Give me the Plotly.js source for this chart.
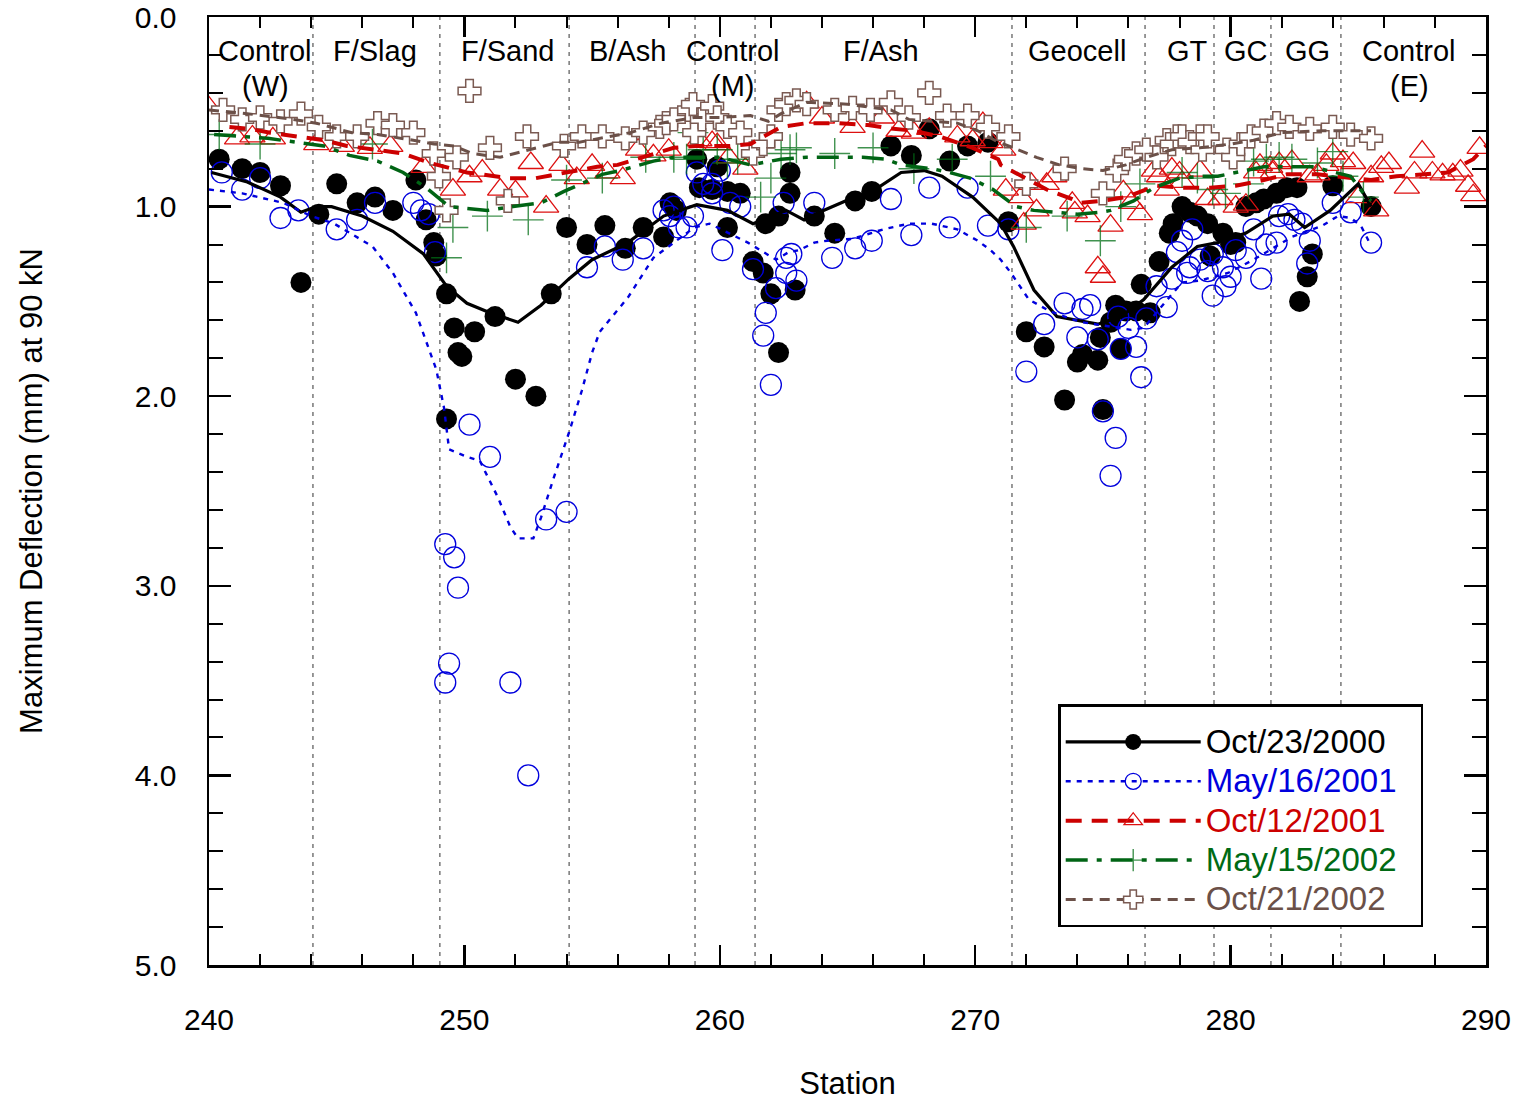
<!DOCTYPE html>
<html>
<head>
<meta charset="utf-8">
<script src="https://cdn.plot.ly/plotly-3.0.1.min.js"></script>
<style>
  html, body { margin: 0; padding: 0; background: #ffffff; }
  #chart { width: 1525px; height: 1103px; }
</style>
</head>
<body>
<div id="chart"></div>
<script>
// ---- Falling-weight deflection survey: maximum deflection (mm) at 90 kN vs. station ----

// Test-section boundaries (station) and section names
const sectionBounds = [244.07, 249.04, 254.1, 259.03, 261.38, 271.44, 276.65, 279.35, 281.58, 284.32];
const sectionNames = ['Control<br>(W)', 'F/Slag', 'F/Sand', 'B/Ash', 'Control<br>(M)', 'F/Ash',
                      'Geocell', 'GT', 'GC', 'GG', 'Control<br>(E)'];
const sectionCenters = [242.2, 246.5, 251.7, 256.4, 260.5, 266.3, 274.0, 278.3, 280.6, 283.0, 287.0];

// Oct/23/2000 measurements
const oct2000X = [240.4, 241.3, 242.0, 242.8, 243.6, 244.3, 245.0, 245.8, 246.5, 247.2, 248.1, 248.5, 248.8, 248.9,
  249.3, 249.3, 249.6, 249.75, 249.9, 250.4, 251.2, 252.0, 252.8, 253.4, 254.0, 254.8, 255.5, 256.3, 257.0, 257.8,
  258.05, 258.3, 259.1, 259.2, 259.7, 259.9, 260.3, 260.3, 260.8, 261.3, 261.7, 261.8, 262.0, 262.3, 262.3, 262.75,
  262.75, 262.95, 263.7, 264.5, 265.3, 265.95, 266.7, 267.5, 268.2, 269.0, 269.7, 270.5, 271.3, 272.0, 272.7, 273.5,
  274.0, 274.2, 274.8, 274.9, 275.0, 275.3, 275.5, 275.7, 275.9, 276.3, 276.5, 276.85, 277.2, 277.6, 277.75, 278.1,
  278.4, 278.7, 279.1, 279.2, 279.7, 280.0, 280.2, 280.6, 281.0, 281.3, 281.8, 282.2, 282.6, 282.7, 283.0, 283.2,
  284.0, 285.5];
const oct2000Y = [0.75, 0.80, 0.82, 0.89, 1.40, 1.04, 0.88, 0.98, 0.95, 1.02, 0.86, 1.07, 1.19, 1.26,
  1.46, 2.12, 1.64, 1.77, 1.79, 1.66, 1.58, 1.91, 2.00, 1.46, 1.11, 1.20, 1.10, 1.22, 1.11, 1.16,
  0.98, 1.02, 0.75, 0.90, 0.91, 0.79, 0.92, 1.11, 0.93, 1.29, 1.35, 1.09, 1.46, 1.05, 1.77, 0.82,
  0.93, 1.44, 1.05, 1.14, 0.97, 0.92, 0.68, 0.73, 0.59, 0.76, 0.68, 0.66, 1.08, 1.66, 1.74, 2.02,
  1.82, 1.78, 1.81, 1.69, 2.07, 1.61, 1.52, 1.75, 1.55, 1.55, 1.41, 1.56, 1.29, 1.14, 1.09, 1.00,
  1.03, 1.05, 1.09, 1.26, 1.14, 1.20, 1.19, 1.00, 0.98, 0.96, 0.93, 0.90, 0.90, 1.50, 1.37, 1.25,
  0.89, 1.00];
const oct2000TrendX = [240.1, 241.5, 242.8, 243.6, 244.2, 244.8, 246.0, 247.2, 248.4, 249.3, 250.1, 251.0, 252.1,
  253.0, 254.1, 255.0, 256.4, 257.8, 259.1, 260.3, 261.3, 262.6, 263.3, 263.9, 265.1, 266.2, 267.1, 268.0, 268.7,
  269.9, 271.0, 271.5, 272.3, 273.2, 274.8, 275.7, 276.6, 277.7, 278.7, 279.5, 280.6, 281.65, 282.3, 282.9, 283.9,
  285.0, 285.5];
const oct2000TrendY = [0.82, 0.87, 0.95, 1.03, 1.00, 1.00, 1.05, 1.13, 1.25, 1.42, 1.51, 1.56, 1.61,
  1.52, 1.38, 1.28, 1.19, 1.05, 0.99, 1.02, 1.09, 1.02, 1.07, 1.03, 0.96, 0.90, 0.82, 0.81, 0.84,
  0.95, 1.09, 1.21, 1.44, 1.58, 1.62, 1.58, 1.49, 1.32, 1.21, 1.19, 1.14, 1.05, 1.04, 1.11, 1.02,
  0.88, 1.00];

// May/16/2001 measurements
const may2001X = [240.5, 241.3, 242.0, 242.8, 243.5, 245.0, 245.8, 246.5, 248.0, 248.3, 248.6, 248.85, 249.25, 249.25,
  249.4, 249.6, 249.75, 250.2, 251.0, 251.8, 252.5, 253.2, 254.0, 254.8, 255.5, 256.2, 257.0, 257.8, 258.05, 258.2,
  258.4, 258.7, 258.95, 259.1, 259.35, 259.7, 259.7, 260.0, 260.4, 260.8, 260.1, 261.3, 261.7, 261.8, 262.0, 262.2,
  262.5, 262.6, 262.6, 262.8, 263.0, 263.7, 264.4, 265.3, 265.95, 266.7, 267.5, 268.2, 269.0, 269.7, 270.5, 271.3,
  272.0, 272.7, 273.5, 274.0, 274.2, 274.5, 274.8, 275.0, 275.3, 275.5, 275.6, 275.7, 276.0, 276.3, 276.5, 276.7,
  277.1, 277.5, 277.7, 277.9, 278.1, 278.3, 278.4, 278.5, 278.8, 279.1, 279.3, 279.3, 279.7, 279.8, 280.0, 280.2,
  280.6, 280.9, 281.2, 281.4, 281.8, 281.9, 282.25, 282.5, 282.8, 283.1, 283.0, 284.0, 284.7, 285.5];
const may2001Y = [0.82, 0.91, 0.85, 1.06, 1.02, 1.12, 1.07, 0.98, 0.98, 1.02, 1.04, 1.24, 2.78, 3.51,
  3.41, 2.85, 3.01, 2.15, 2.32, 3.51, 4.00, 2.65, 2.61, 1.32, 1.21, 1.28, 1.22, 1.02, 1.05, 1.00,
  1.11, 1.11, 1.05, 0.82, 0.88, 0.88, 0.93, 0.81, 0.98, 1.00, 1.23, 1.33, 1.68, 1.56, 1.94, 1.43,
  0.98, 1.27, 1.35, 1.25, 1.39, 0.98, 1.27, 1.22, 1.18, 0.96, 1.15, 0.90, 1.11, 0.90, 1.10, 1.12,
  1.87, 1.62, 1.51, 1.69, 1.54, 1.52, 1.70, 2.08, 2.42, 2.22, 1.58, 1.75, 1.64, 1.74, 1.90, 1.59,
  1.42, 1.53, 1.38, 1.24, 1.18, 1.35, 1.32, 1.12, 1.28, 1.34, 1.47, 1.25, 1.32, 1.42, 1.37, 1.23,
  1.27, 1.12, 1.38, 1.20, 1.19, 1.05, 1.04, 1.07, 1.09, 1.18, 1.30, 0.98, 1.03, 1.19];
const may2001TrendX = [240.0, 241.3, 242.9, 244.0, 244.9, 246.4, 247.2, 248.1, 248.9, 249.2, 249.4, 250.1, 250.6,
  251.3, 251.8, 252.1, 252.7, 253.0, 253.5, 254.1, 254.6, 255.0, 255.3, 255.8, 256.4, 257.4, 259.0, 259.6, 261.1,
  262.2, 262.7, 263.1, 263.7, 264.2, 265.2, 266.4, 267.4, 268.3, 269.3, 270.1, 270.6, 271.0, 271.4, 272.1, 272.9,
  273.7, 274.2, 276.1, 276.6, 277.4, 278.1, 278.8, 279.9, 280.9, 282.0, 282.4, 283.6, 284.2, 284.7, 285.1, 285.4];
const may2001TrendY = [0.91, 0.93, 0.98, 1.05, 1.09, 1.21, 1.35, 1.56, 1.86, 2.06, 2.28, 2.32, 2.34,
  2.53, 2.69, 2.75, 2.75, 2.64, 2.43, 2.19, 1.97, 1.77, 1.66, 1.58, 1.48, 1.27, 1.11, 1.09, 1.19,
  1.28, 1.24, 1.23, 1.19, 1.18, 1.17, 1.12, 1.09, 1.09, 1.12, 1.18, 1.23, 1.28, 1.35, 1.49, 1.55,
  1.59, 1.61, 1.65, 1.64, 1.51, 1.40, 1.39, 1.35, 1.28, 1.19, 1.16, 1.10, 1.05, 1.06, 1.10, 1.18];

// Oct/12/2001 measurements
const oct2001X = [239.9, 241.1, 241.7, 242.5, 244.2, 245.2, 246.3, 247.1, 248.4, 249.55, 250.2, 250.7, 251.4, 252.0,
  252.6, 253.2, 253.8, 254.4, 255.0, 255.6, 256.2, 256.8, 257.4, 258.0, 259.2, 259.7, 259.9, 260.35, 261.0, 263.4,
  264.0, 265.2, 266.35, 267.0, 267.6, 268.2, 269.3, 269.9, 270.3, 270.6, 271.1, 271.2, 271.8, 271.9, 272.2, 272.4,
  272.8, 273.1, 273.8, 273.9, 274.4, 274.8, 275.0, 275.3, 275.8, 276.1, 276.45, 277.0, 277.2, 277.5, 277.7, 278.0,
  278.1, 278.8, 279.1, 279.6, 280.2, 280.6, 281.0, 281.15, 281.55, 281.65, 281.9, 282.4, 283.1, 283.4, 283.75, 284.0,
  284.4, 284.8, 285.0, 285.5, 285.7, 285.9, 286.2, 286.9, 287.2, 287.5, 287.9, 288.3, 288.7, 289.0, 289.3, 289.5,
  289.75];
const oct2001Y = [0.46, 0.64, 0.63, 0.64, 0.67, 0.68, 0.69, 0.68, 0.79, 0.91, 0.84, 0.81, 0.91, 0.92,
  0.77, 1.00, 0.78, 0.85, 0.78, 0.82, 0.85, 0.70, 0.73, 0.70, 0.65, 0.66, 0.67, 0.74, 0.80, 0.45,
  0.53, 0.58, 0.53, 0.60, 0.61, 0.59, 0.63, 0.65, 0.56, 0.66, 0.70, 0.91, 0.95, 1.09, 0.88, 1.02,
  0.88, 0.84, 0.98, 1.03, 1.05, 1.32, 1.37, 1.10, 0.92, 0.98, 1.04, 0.81, 0.84, 0.91, 0.80, 0.82,
  0.87, 0.81, 0.96, 0.96, 1.00, 0.99, 0.82, 0.78, 0.79, 0.82, 0.77, 0.76, 0.84, 0.83, 0.78, 0.72,
  0.76, 0.77, 0.95, 0.84, 1.02, 0.79, 0.77, 0.90, 0.82, 0.71, 0.82, 0.83, 0.83, 0.81, 0.89, 0.94,
  0.69];
const oct2001TrendX = [240.8, 241.6, 242.4, 243.4, 244.5, 245.4, 246.6, 247.6, 248.65, 250.1, 250.7, 251.7, 252.8,
  254.0, 255.2, 256.0, 257.4, 258.2, 259.1, 260.4, 261.2, 262.4, 263.4, 264.6, 265.8, 266.8, 267.6, 268.6, 269.9,
  270.9, 271.0, 272.8, 273.8, 274.1, 275.0, 275.9, 277.1, 278.0, 279.2, 280.2, 281.3, 282.2, 283.4, 285.5, 286.5,
  287.6, 288.5, 289.5, 290.0];
const oct2001TrendY = [0.58, 0.59, 0.61, 0.63, 0.65, 0.68, 0.70, 0.72, 0.77, 0.82, 0.83, 0.85, 0.85,
  0.82, 0.79, 0.78, 0.72, 0.69, 0.68, 0.68, 0.67, 0.58, 0.56, 0.56, 0.57, 0.59, 0.60, 0.63, 0.69,
  0.75, 0.78, 0.91, 0.96, 0.98, 0.97, 0.95, 0.89, 0.90, 0.90, 0.89, 0.86, 0.83, 0.83, 0.86, 0.84,
  0.83, 0.82, 0.75, 0.68];

// May/15/2002 measurements
const may2002X = [240.4, 242.0, 246.4, 249.3, 249.55, 250.9, 252.5, 254.0, 255.4, 257.1, 258.2, 258.7, 258.95,
  259.35, 259.9, 260.3, 260.7, 261.6, 262.0, 262.4, 262.75, 263.0, 264.5, 266.0, 267.6, 269.1, 270.6, 272.0, 273.6,
  274.9, 275.7, 276.45, 278.1, 278.7, 279.3, 279.8, 280.7, 280.9, 281.4, 281.9, 282.4, 283.4, 284.0, 284.4, 285.2];
const may2002Y = [0.62, 0.67, 0.67, 1.27, 1.11, 1.05, 1.07, 0.86, 0.85, 0.74, 0.74, 0.75, 0.61,
  0.70, 0.70, 0.77, 0.75, 0.95, 0.85, 0.72, 0.70, 0.69, 0.72, 0.69, 0.80, 0.75, 0.84, 1.11, 1.05,
  1.18, 1.00, 0.88, 0.82, 0.85, 0.91, 0.93, 0.88, 0.76, 0.75, 0.74, 0.75, 0.77, 0.71, 0.84, 0.95];
const may2002TrendX = [240.2, 241.3, 242.3, 243.4, 244.5, 245.5, 246.6, 247.6, 248.5, 249.4, 250.9, 251.9, 253.0,
  253.9, 255.4, 256.1, 257.4, 258.2, 259.2, 260.0, 261.2, 262.4, 263.4, 264.6, 265.6, 266.5, 267.1, 268.3, 269.0,
  269.8, 270.7, 271.6, 272.3, 273.2, 274.0, 274.9, 275.3, 276.2, 277.0, 278.0, 278.9, 279.5, 280.2, 281.3, 282.2,
  283.2, 284.7, 285.2, 285.5];
const may2002TrendY = [0.62, 0.63, 0.64, 0.66, 0.68, 0.73, 0.76, 0.82, 0.90, 1.00, 1.02, 1.00, 0.98,
  0.92, 0.83, 0.81, 0.76, 0.74, 0.74, 0.74, 0.78, 0.75, 0.74, 0.74, 0.74, 0.75, 0.78, 0.80, 0.82,
  0.85, 0.91, 1.00, 1.02, 1.03, 1.04, 1.03, 1.02, 0.97, 0.90, 0.85, 0.84, 0.84, 0.82, 0.79, 0.79,
  0.79, 0.84, 0.93, 0.97];

// Oct/21/2002 measurements
const oct2002X = [240.55, 241.3, 242.0, 242.8, 243.6, 244.3, 245.0, 245.8, 246.6, 247.2, 248.0, 248.8, 249.0,
  249.3, 249.7, 250.2, 251.0, 251.7, 252.45, 253.9, 254.6, 255.4, 256.3, 257.0, 257.65, 257.9, 258.2, 258.8, 258.95,
  259.0, 259.3, 259.7, 259.9, 260.3, 260.8, 261.3, 261.7, 262.0, 262.3, 262.6, 263.0, 263.4, 264.5, 265.2, 265.9,
  266.7, 267.4, 268.2, 268.9, 269.7, 270.5, 271.3, 272.0, 273.5, 275.0, 275.55, 275.9, 276.3, 276.7, 277.1, 277.5,
  277.7, 277.9, 278.1, 278.4, 278.8, 278.9, 279.1, 279.85, 280.1, 280.4, 280.8, 281.3, 281.8, 282.3, 283.1, 284.0,
  284.7, 285.5];
const oct2002Y = [0.49, 0.54, 0.53, 0.55, 0.51, 0.58, 0.63, 0.63, 0.56, 0.57, 0.61, 0.72, 0.84,
  1.02, 0.74, 0.39, 0.69, 0.97, 0.63, 0.68, 0.63, 0.63, 0.64, 0.61, 0.58, 0.56, 0.54, 0.49, 0.46,
  0.61, 0.54, 0.47, 0.53, 0.58, 0.61, 0.72, 0.67, 0.63, 0.49, 0.46, 0.44, 0.46, 0.49, 0.48, 0.49,
  0.45, 0.53, 0.40, 0.52, 0.52, 0.58, 0.63, 0.88, 0.80, 0.93, 0.81, 0.75, 0.72, 0.70, 0.74, 0.65,
  0.67, 0.63, 0.63, 0.66, 0.63, 0.70, 0.63, 0.70, 0.74, 0.67, 0.63, 0.60, 0.56, 0.58, 0.59, 0.58,
  0.62, 0.64];
const oct2002TrendX = [240.0, 241.5, 243.3, 244.2, 245.6, 246.6, 248.0, 248.8, 249.6, 250.3, 251.4, 252.0, 253.7,
  254.5, 255.8, 256.5, 257.7, 259.0, 260.0, 261.2, 261.9, 262.4, 263.4, 265.0, 266.7, 267.4, 269.3, 270.1, 270.9,
  271.5, 272.4, 273.3, 274.2, 275.0, 275.9, 276.7, 277.7, 278.8, 280.0, 280.9, 282.0, 283.6, 285.5];
const oct2002TrendY = [0.49, 0.51, 0.54, 0.56, 0.61, 0.62, 0.65, 0.67, 0.68, 0.72, 0.74, 0.72, 0.66,
  0.66, 0.63, 0.61, 0.56, 0.53, 0.53, 0.52, 0.55, 0.51, 0.45, 0.46, 0.49, 0.54, 0.56, 0.60, 0.66,
  0.69, 0.74, 0.78, 0.80, 0.81, 0.78, 0.74, 0.70, 0.69, 0.67, 0.65, 0.61, 0.60, 0.60];

// ---- styles ----
const FONT = '"Liberation Sans", Arial, Helvetica, sans-serif';
const series = [
  { name: 'Oct/23/2000', text: '#000000',
    px: oct2000X, py: oct2000Y, tx: oct2000TrendX, ty: oct2000TrendY,
    line: { color: '#000000', width: 3.2 },
    marker: { symbol: 'circle', size: 21, color: '#000000', line: { width: 0 } } },
  { name: 'May/16/2001', text: '#0000dd',
    px: may2001X, py: may2001Y, tx: may2001TrendX, ty: may2001TrendY,
    line: { color: '#0000dd', width: 2.4, dash: '5px,6px' },
    marker: { symbol: 'circle-open', size: 21, color: '#0000dd', line: { width: 1.3, color: '#0000dd' } } },
  { name: 'Oct/12/2001', text: '#cc0000',
    px: oct2001X, py: oct2001Y, tx: oct2001TrendX, ty: oct2001TrendY,
    line: { color: '#cc0000', width: 4, dash: '16px,10px' },
    marker: { symbol: 'triangle-up-open', size: 22, color: '#dd1111', line: { width: 1.3, color: '#dd1111' } } },
  { name: 'May/15/2002', text: '#006a14',
    px: may2002X, py: may2002Y, tx: may2002TrendX, ty: may2002TrendY,
    line: { color: '#006414', width: 3.5, dash: '22px,9px,5px,9px' },
    marker: { symbol: 'cross-thin-open', size: 22, color: 'rgba(0,110,20,0.75)', line: { width: 1.4, color: 'rgba(0,110,20,0.75)' } } },
  { name: 'Oct/21/2002', text: '#6b5048',
    px: oct2002X, py: oct2002Y, tx: oct2002TrendX, ty: oct2002TrendY,
    line: { color: '#6b5048', width: 3, dash: '10px,7px' },
    marker: { symbol: 'cross', size: 19, color: '#ffffff', line: { width: 1.5, color: '#7a5a52' } } }
];

const traces = [];
// measured points, oldest survey first
series.forEach(s => traces.push({
  type: 'scatter', mode: 'markers', x: s.px, y: s.py,
  marker: s.marker, showlegend: false, hoverinfo: 'skip'
}));
// smoothed trend of each survey
series.forEach(s => traces.push({
  type: 'scatter', mode: 'lines', x: s.tx, y: s.ty,
  line: s.line, showlegend: false, hoverinfo: 'skip'
}));
// legend entries (line + symbol); the larger label size is set on the text itself,
// with a little trailing space before the frame
series.forEach(s => traces.push({
  type: 'scatter', mode: 'lines+markers', x: [null], y: [null],
  name: '<span style="color:' + s.text + ';font-size:33px">' + s.name + '\u00a0\u00a0</span>',
  line: s.line, marker: s.marker, hoverinfo: 'skip'
}));

const shapes = sectionBounds.map(b => ({
  type: 'line', xref: 'x', yref: 'paper', x0: b, x1: b, y0: 0, y1: 1,
  line: { color: '#555555', width: 1.2, dash: '4px,5px' }, layer: 'below'
}));

// section names, one annotation per text line
const annotations = [];
sectionNames.forEach((t, i) => {
  t.split('<br>').forEach((part, k) => annotations.push({
    text: part, x: sectionCenters[i], xref: 'x', y: 1, yref: 'paper',
    xanchor: 'center', yanchor: 'top', yshift: -16 - 35 * k, showarrow: false,
    font: { family: FONT, size: 29, color: '#000000' }
  }));
});

const axisCommon = {
  showline: true, linecolor: '#000000', linewidth: 2.5, mirror: 'allticks',
  ticks: 'inside', tickcolor: '#000000', tickwidth: 2.5,
  showgrid: false, zeroline: false,
  tickfont: { family: FONT, size: 30, color: '#000000' }
};

const layout = {
  width: 1525, height: 1103,
  margin: { l: 209, r: 39, t: 17, b: 138, pad: 0 },
  paper_bgcolor: '#ffffff', plot_bgcolor: '#ffffff',
  font: { family: FONT, color: '#000000' },
  showlegend: true,
  xaxis: Object.assign({}, axisCommon, {
    range: [240, 290], tick0: 240, dtick: 10, ticklen: 20, ticklabelstandoff: 26,
    minor: { dtick: 2, ticks: 'inside', ticklen: 11, tickwidth: 2, tickcolor: '#000000', showgrid: false },
    title: { text: 'Station', font: { family: FONT, size: 31, color: '#000000' }, standoff: 38 }
  }),
  yaxis: Object.assign({}, axisCommon, {
    range: [5, 0], tick0: 0, dtick: 1, tickformat: '.1f', ticklen: 22, ticklabelstandoff: 24,
    minor: { dtick: 0.2, ticks: 'inside', ticklen: 14, tickwidth: 2, tickcolor: '#000000', showgrid: false },
    title: { text: 'Maximum Deflection (mm) at 90 kN', font: { family: FONT, size: 31, color: '#000000' }, standoff: 83 }
  }),
  legend: {
    x: 0.665, y: 0.275, xanchor: 'left', yanchor: 'top',
    bgcolor: '#ffffff', bordercolor: '#000000', borderwidth: 2.5,
    font: { family: FONT, size: 28, color: '#000000' },
    title: { text: '\u00a0', font: { family: FONT, size: 8 } },
    itemwidth: 135, traceorder: 'normal', tracegroupgap: 0
  },
  shapes: shapes,
  annotations: annotations
};

Plotly.newPlot('chart', traces, layout, { displayModeBar: false, staticPlot: true });
</script>
</body>
</html>
